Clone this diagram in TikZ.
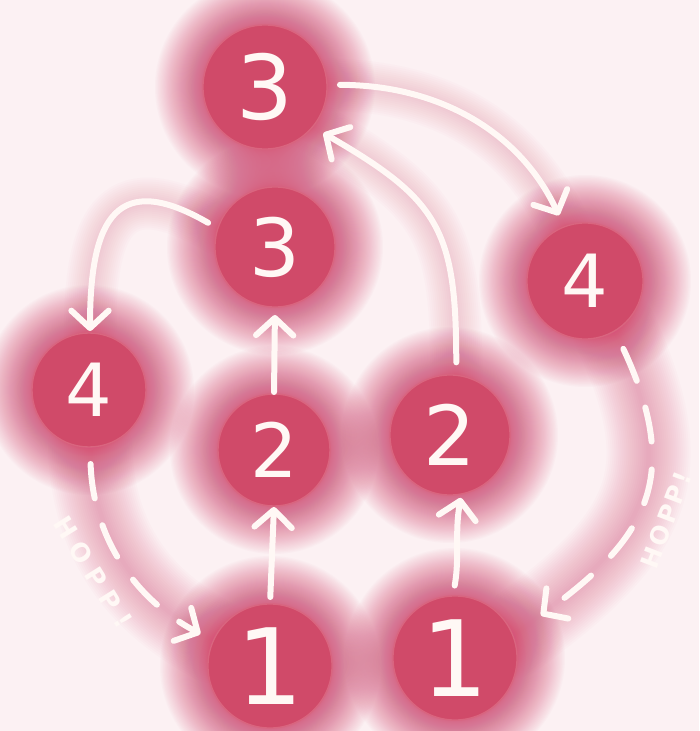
\documentclass[tikz,border=0pt]{standalone}
\usepackage{fontspec}
\setmainfont{DejaVu Sans}
\usetikzlibrary{arrows.meta}
\pgfdeclarelayer{bglayer}
\pgfdeclarelayer{glowlayer}
\pgfsetlayers{bglayer,glowlayer,main}
\definecolor{bgc}{HTML}{FCF1F3}
\definecolor{glowc}{HTML}{D6537A}
\definecolor{circc}{HTML}{D04A69}
\definecolor{rimc}{HTML}{D9657F}
\definecolor{inkc}{HTML}{FFF8F5}
\tikzset{
  ball/.style={circle, fill=circc, draw=rimc, line width=1pt, inner sep=0pt, outer sep=0pt, text=inkc},
  link/.style={draw=inkc, line width=4.5pt, line cap=round, -{Straight Barb[length=13pt,width=28pt,round]}},
  hopp/.style={link, dash pattern=on 26pt off 21pt},
  hopptext/.style={text=inkc, inner sep=0pt},
}
\newcommand{\ballglow}[2]{\foreach \k in {1,...,60}{\fill[glowc, opacity=0.026] (#1.center) circle[radius={#2+48*(\k/60)^1.6}];}}
\newcommand{\lineglow}[3]{\foreach \w in {4,8,...,#2}{\draw[glowc, line width=\w*0.75pt, opacity=#3, line cap=round] #1;}}
\begin{document}
\begin{tikzpicture}[x=0.75pt,y=0.75pt]
\useasboundingbox (0,0) rectangle (699,-731);
\begin{pgfonlayer}{bglayer}
\fill[bgc] (0,0) rectangle (699,-731);
\end{pgfonlayer}
% nodes
\node[ball, minimum size=93pt, font=\fontsize{67}{67}\selectfont] (t3) at (265,-87) {3};
\node[ball, minimum size=90pt, font=\fontsize{60}{60}\selectfont] (m3) at (275,-247) {3};
\node[ball, minimum size=87pt, font=\fontsize{55}{55}\selectfont] (r4) at (585,-281) {4};
\node[ball, minimum size=85.5pt, font=\fontsize{55}{55}\selectfont] (l4) at (89,-390) {4};
\node[ball, minimum size=84pt, font=\fontsize{56}{56}\selectfont] (l2) at (274,-450) {2};
\node[ball, minimum size=90pt, font=\fontsize{62}{62}\selectfont] (r2) at (450,-435) {2};
\node[ball, minimum size=93pt, font=\fontsize{79}{79}\selectfont] (l1) at (270,-666) {1};
\node[ball, minimum size=93pt, font=\fontsize{79}{79}\selectfont] (r1) at (455,-658) {1};
% connectors
\draw[link, shorten <=9.75pt, shorten >=9.5pt] (t3.2) to[out=0,in=115] (r4.111);
\draw[link, shorten <=9.75pt, shorten >=9.4pt] (r2.84) to[out=90,in=-30,looseness=1.3] (t3.-40);
\draw[link, shorten <=8.5pt, shorten >=1.5pt] (m3.162) to[out=150,in=90,looseness=1.8] (l4.89);
\draw[link, shorten <=1.5pt, shorten >=6pt] (l2.north) -- (m3.south);
\draw[link, shorten <=5.25pt, shorten >=0.75pt] (l1.north) -- (l2.south);
\draw[link, shorten <=8pt, shorten >=3pt] (r1.92) to[out=80,in=-100] (r2.-79);
\draw[hopp, shorten <=12.75pt, shorten >=11pt] (l4.-89) to[out=-88,in=152] (l1.156);
\draw[hopp, shorten <=15pt, shorten >=26pt] (r4.-59) to[out=-65,in=36,looseness=1.3] (r1.21);
% labels
\node[hopptext, rotate=-58, font=\bfseries\fontsize{19}{19}\selectfont\addfontfeature{LetterSpace=33}] (hl) at (93,-572) {HOPP!};
\node[hopptext, rotate=69, font=\bfseries\fontsize{18.5}{18.5}\selectfont\addfontfeature{LetterSpace=13}] (hr) at (666,-520) {HOPP!};
% glows
\begin{pgfonlayer}{glowlayer}
\ballglow{t3}{62}
\ballglow{m3}{60}
\ballglow{r4}{58}
\ballglow{l4}{57}
\ballglow{l2}{56}
\ballglow{r2}{60}
\ballglow{l1}{62}
\ballglow{r1}{62}
\lineglow{(l4.-89) to[out=-88,in=152] (l1.156)}{84}{0.025}
\lineglow{(r4.-59) to[out=-65,in=36,looseness=1.3] (r1.21)}{84}{0.025}
\lineglow{(t3.2) to[out=0,in=115] (r4.111)}{52}{0.018}
\lineglow{(r2.84) to[out=90,in=-30,looseness=1.3] (t3.-40)}{52}{0.018}
\lineglow{(m3.162) to[out=150,in=90,looseness=1.8] (l4.89)}{52}{0.018}
\end{pgfonlayer}
\end{tikzpicture}
\end{document}
